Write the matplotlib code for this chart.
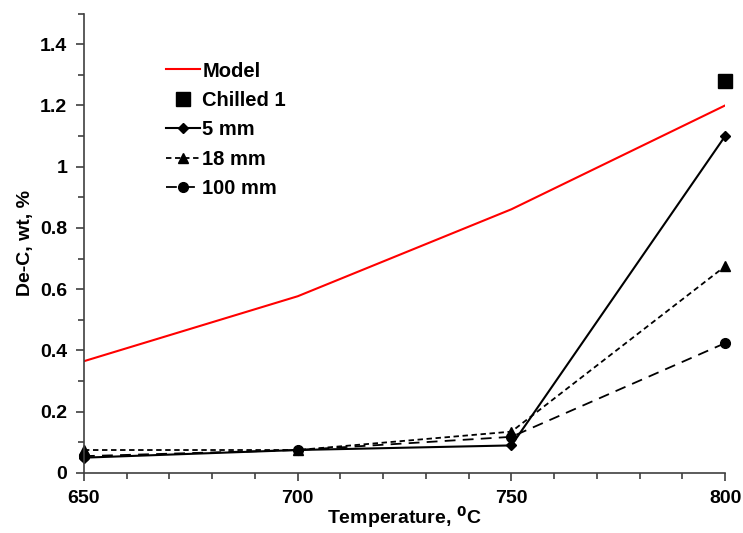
import matplotlib
matplotlib.use("Agg")
import matplotlib.pyplot as plt
from matplotlib.ticker import MultipleLocator

plt.rcParams['font.family'] = ['Liberation Sans', 'DejaVu Sans']

temps = [650, 700, 750, 800]
model = [0.365, 0.577, 0.861, 1.20]
chilled_t = [800]
chilled = [1.28]
mm5 = [0.05, 0.075, 0.09, 1.10]
mm18 = [0.075, 0.075, 0.135, 0.675]
mm100 = [0.055, 0.075, 0.118, 0.424]

fig = plt.figure(figsize=(7.43, 5.33), dpi=100)
ax = fig.add_axes([0.113, 0.1126, 0.863, 0.862])

ax.plot(temps, model, color='red', lw=1.5, label='Model')
ax.plot(chilled_t, chilled, 's', color='black', ms=9.5, label='Chilled 1', clip_on=False)
ax.plot(temps, mm5, '-', color='black', lw=1.5, marker='D', ms=5, label='5 mm', clip_on=False)
ax.plot(temps, mm18, color='black', lw=1.3, ls=(0, (3, 2)), marker='^', ms=7, label='18 mm', clip_on=False)
ax.plot(temps, mm100, color='black', lw=1.3, ls=(0, (6, 4)), marker='o', ms=7, label='100 mm', clip_on=False)

ax.set_xlim(650, 800)
ax.set_ylim(0, 1.5)
ax.xaxis.set_major_locator(MultipleLocator(50))
ax.xaxis.set_minor_locator(MultipleLocator(10))
ax.set_yticks([0, 0.2, 0.4, 0.6, 0.8, 1.0, 1.2, 1.4])
ax.set_yticklabels(['0', '0.2', '0.4', '0.6', '0.8', '1', '1.2', '1.4'])
ax.yaxis.set_minor_locator(MultipleLocator(0.1))

for s in ['top', 'right']:
    ax.spines[s].set_visible(False)
for s in ['left', 'bottom']:
    ax.spines[s].set_color('#404040')
    ax.spines[s].set_linewidth(1.2)

ax.tick_params(which='both', direction='out', color='#404040', width=1.2)
ax.tick_params(which='major', length=6, labelsize=14, pad=6)
ax.tick_params(which='minor', length=4)
for lbl in ax.get_xticklabels() + ax.get_yticklabels():
    lbl.set_fontweight('bold')

fig.text(0.5 * (0.113 + 0.976), 3 / 533, 'Temperature, $^{\\mathbf{0}}$C',
         fontsize=14, fontweight='bold', ha='center', va='bottom')
ax.set_ylabel('De-C, wt, %', fontsize=14, fontweight='bold')
ax.yaxis.set_label_coords(-0.078, 0.5)

leg = ax.legend(loc='upper left', bbox_to_anchor=(0.1, 0.935), frameon=False,
                prop={'weight': 'bold', 'size': 14.5}, handlelength=1.7,
                handletextpad=0.1, labelspacing=0.52)

fig.savefig('out.png', dpi=100)
